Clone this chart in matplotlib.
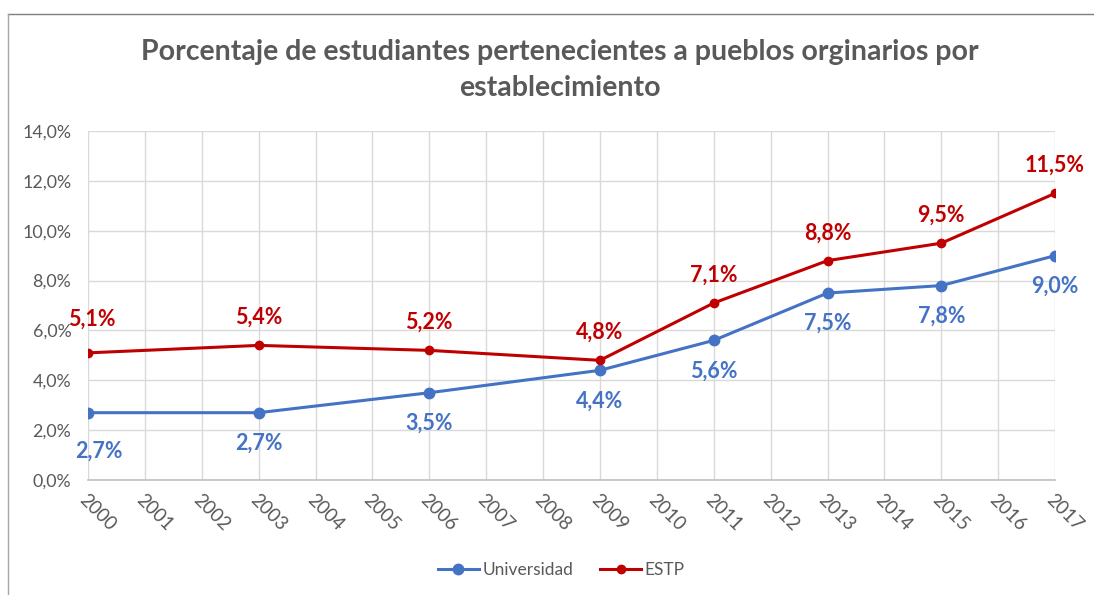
import matplotlib
matplotlib.use("Agg")
from matplotlib import pyplot as plt
from matplotlib.lines import Line2D
from matplotlib.ticker import FuncFormatter

# data
years = [2000, 2003, 2006, 2009, 2011, 2013, 2015, 2017]
universidad = [2.7, 2.7, 3.5, 4.4, 5.6, 7.5, 7.8, 9.0]
estp = [5.1, 5.4, 5.2, 4.8, 7.1, 8.8, 9.5, 11.5]
year_ticks = list(range(2000, 2018))
title = 'Porcentaje de estudiantes pertenecientes a pueblos orginarios por\nestablecimiento'

blue = '#4472C4'
red = '#C00000'
grey = '#595959'
plt.rcParams['font.family'] = ['Lato', 'DejaVu Sans']

fig = plt.figure(figsize=(10.94, 5.95), dpi=100)
ax = fig.add_axes([0.0804, 0.1933, 0.884, 0.5865])

ax.plot(years, universidad, color=blue, lw=2.2, marker='o', ms=7.5, label='Universidad', zorder=3)
ax.plot(years, estp, color=red, lw=2.2, marker='o', ms=6, label='ESTP', zorder=3)

ax.set_xlim(2000, 2017)
ax.set_ylim(0, 14)
ax.set_xticks(year_ticks)
ax.set_xticklabels([str(y) for y in year_ticks], rotation=-45, ha='left',
                   rotation_mode='anchor', fontsize=13.5, color=grey)
ax.set_yticks(range(0, 15, 2))
ax.yaxis.set_major_formatter(FuncFormatter(lambda v, p: f'{v:.1f}%'.replace('.', ',')))
ax.tick_params(axis='y', labelsize=12.8, labelcolor=grey, length=0, pad=12)
ax.tick_params(axis='x', length=0, pad=8)
ax.grid(True, color='#D9D9D9', lw=1)
ax.set_axisbelow(True)
for s in ['top', 'right', 'left']:
    ax.spines[s].set_visible(False)
ax.spines['bottom'].set_color('#BFBFBF')
ax.spines['bottom'].set_linewidth(1.2)

for i, (x, v) in enumerate(zip(years, estp)):
    dx, dy = (3, 24) if i == 0 else (0, 20)
    ax.annotate(f'{v:.1f}%'.replace('.', ','), (x, v), xytext=(dx, dy), textcoords='offset points',
                ha='center', va='center', fontsize=15.5, fontweight='bold', color=red,
                annotation_clip=False)
for i, (x, v) in enumerate(zip(years, universidad)):
    dx, dy = (8, -28) if i == 0 else (0, -22)
    ax.annotate(f'{v:.1f}%'.replace('.', ','), (x, v), xytext=(dx, dy), textcoords='offset points',
                ha='center', va='center', fontsize=15.5, fontweight='bold', color=blue,
                annotation_clip=False)

fig.text(0.512, 0.882, title, ha='center', va='center', fontsize=20.5, fontweight='bold',
         color=grey, linespacing=1.45)

handles = [Line2D([], [], color=blue, lw=2.2, marker='o', ms=7.5),
           Line2D([], [], color=red, lw=2.2, marker='o', ms=6)]
fig.legend(handles, ['Universidad', 'ESTP'], loc='center', bbox_to_anchor=(0.513, 0.042),
           ncol=2, frameon=False, fontsize=12.5, labelcolor=grey, handlelength=2.4,
           columnspacing=1.5, handletextpad=0.2)

# chart frame partly visible in the reference
fig.add_artist(Line2D([0.0073, 1.0], [0.976, 0.976], color='#7F7F7F', lw=1))
fig.add_artist(Line2D([0.0073, 0.0073], [0.0, 0.976], color='#A6A6A6', lw=1))

fig.savefig('out.png', dpi=100)
